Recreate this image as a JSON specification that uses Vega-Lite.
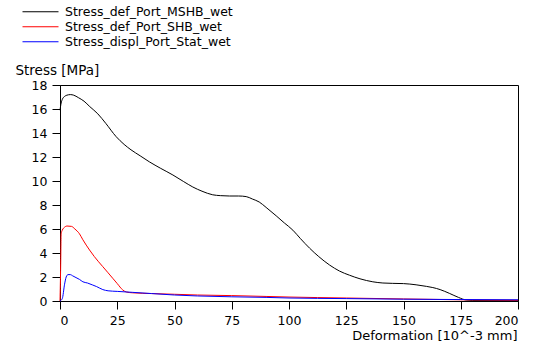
{
  "$schema": "https://vega.github.io/schema/vega-lite/v6.json",
  "width": 458,
  "height": 216,
  "autosize": "none",
  "padding": {"left": 60, "top": 85, "right": 20, "bottom": 53},
  "background": "white",
  "config": {
    "font": "DejaVu Sans",
    "view": {"stroke": "#000", "strokeWidth": 1},
    "axis": {"grid": false, "domainColor": "#000", "tickColor": "#000", "labelColor": "#000", "titleColor": "#000", "labelFontSize": 12.5, "titleFontSize": 13, "titleFontWeight": "normal", "tickSize": 8}
  },
  "data": {"values": [
    {"s":"Stress_def_Port_MSHB_wet","x":0,"y":15.9},
    {"s":"Stress_def_Port_MSHB_wet","x":0.5,"y":16.5},
    {"s":"Stress_def_Port_MSHB_wet","x":1,"y":16.8},
    {"s":"Stress_def_Port_MSHB_wet","x":2,"y":17.05},
    {"s":"Stress_def_Port_MSHB_wet","x":3,"y":17.15},
    {"s":"Stress_def_Port_MSHB_wet","x":4.5,"y":17.2},
    {"s":"Stress_def_Port_MSHB_wet","x":6,"y":17.15},
    {"s":"Stress_def_Port_MSHB_wet","x":8,"y":16.95},
    {"s":"Stress_def_Port_MSHB_wet","x":10.5,"y":16.65},
    {"s":"Stress_def_Port_MSHB_wet","x":13,"y":16.2},
    {"s":"Stress_def_Port_MSHB_wet","x":16.5,"y":15.6},
    {"s":"Stress_def_Port_MSHB_wet","x":20,"y":14.8},
    {"s":"Stress_def_Port_MSHB_wet","x":24.5,"y":13.7},
    {"s":"Stress_def_Port_MSHB_wet","x":28,"y":13.05},
    {"s":"Stress_def_Port_MSHB_wet","x":31,"y":12.6},
    {"s":"Stress_def_Port_MSHB_wet","x":35,"y":12.1},
    {"s":"Stress_def_Port_MSHB_wet","x":39,"y":11.6},
    {"s":"Stress_def_Port_MSHB_wet","x":44,"y":11.05},
    {"s":"Stress_def_Port_MSHB_wet","x":49.3,"y":10.5},
    {"s":"Stress_def_Port_MSHB_wet","x":54,"y":9.95},
    {"s":"Stress_def_Port_MSHB_wet","x":58,"y":9.5},
    {"s":"Stress_def_Port_MSHB_wet","x":62,"y":9.15},
    {"s":"Stress_def_Port_MSHB_wet","x":66.7,"y":8.85},
    {"s":"Stress_def_Port_MSHB_wet","x":70,"y":8.78},
    {"s":"Stress_def_Port_MSHB_wet","x":74,"y":8.75},
    {"s":"Stress_def_Port_MSHB_wet","x":78,"y":8.75},
    {"s":"Stress_def_Port_MSHB_wet","x":81.3,"y":8.7},
    {"s":"Stress_def_Port_MSHB_wet","x":84,"y":8.5},
    {"s":"Stress_def_Port_MSHB_wet","x":87,"y":8.25},
    {"s":"Stress_def_Port_MSHB_wet","x":90,"y":7.8},
    {"s":"Stress_def_Port_MSHB_wet","x":94.4,"y":7.1},
    {"s":"Stress_def_Port_MSHB_wet","x":98,"y":6.5},
    {"s":"Stress_def_Port_MSHB_wet","x":101.7,"y":5.9},
    {"s":"Stress_def_Port_MSHB_wet","x":105,"y":5.2},
    {"s":"Stress_def_Port_MSHB_wet","x":109,"y":4.4},
    {"s":"Stress_def_Port_MSHB_wet","x":113,"y":3.7},
    {"s":"Stress_def_Port_MSHB_wet","x":117.7,"y":3.0},
    {"s":"Stress_def_Port_MSHB_wet","x":122,"y":2.5},
    {"s":"Stress_def_Port_MSHB_wet","x":126.4,"y":2.15},
    {"s":"Stress_def_Port_MSHB_wet","x":131,"y":1.85},
    {"s":"Stress_def_Port_MSHB_wet","x":136.6,"y":1.6},
    {"s":"Stress_def_Port_MSHB_wet","x":141,"y":1.5},
    {"s":"Stress_def_Port_MSHB_wet","x":145.3,"y":1.47},
    {"s":"Stress_def_Port_MSHB_wet","x":150,"y":1.45},
    {"s":"Stress_def_Port_MSHB_wet","x":155.5,"y":1.35},
    {"s":"Stress_def_Port_MSHB_wet","x":160,"y":1.22},
    {"s":"Stress_def_Port_MSHB_wet","x":162.8,"y":1.12},
    {"s":"Stress_def_Port_MSHB_wet","x":166,"y":0.95},
    {"s":"Stress_def_Port_MSHB_wet","x":170,"y":0.64},
    {"s":"Stress_def_Port_MSHB_wet","x":174,"y":0.3},
    {"s":"Stress_def_Port_MSHB_wet","x":177.4,"y":0.08},
    {"s":"Stress_def_Port_MSHB_wet","x":180,"y":0.05},
    {"s":"Stress_def_Port_MSHB_wet","x":200,"y":0.05},
    {"s":"Stress_def_Port_SHB_wet","x":0,"y":0},
    {"s":"Stress_def_Port_SHB_wet","x":0.3,"y":3},
    {"s":"Stress_def_Port_SHB_wet","x":0.5,"y":5.6},
    {"s":"Stress_def_Port_SHB_wet","x":1,"y":5.9},
    {"s":"Stress_def_Port_SHB_wet","x":2,"y":6.15},
    {"s":"Stress_def_Port_SHB_wet","x":3,"y":6.25},
    {"s":"Stress_def_Port_SHB_wet","x":5,"y":6.22},
    {"s":"Stress_def_Port_SHB_wet","x":6.5,"y":6.0},
    {"s":"Stress_def_Port_SHB_wet","x":8.5,"y":5.6},
    {"s":"Stress_def_Port_SHB_wet","x":10,"y":5.1},
    {"s":"Stress_def_Port_SHB_wet","x":12.9,"y":4.25},
    {"s":"Stress_def_Port_SHB_wet","x":15,"y":3.7},
    {"s":"Stress_def_Port_SHB_wet","x":18.7,"y":2.86},
    {"s":"Stress_def_Port_SHB_wet","x":21,"y":2.35},
    {"s":"Stress_def_Port_SHB_wet","x":23,"y":1.9},
    {"s":"Stress_def_Port_SHB_wet","x":25,"y":1.45},
    {"s":"Stress_def_Port_SHB_wet","x":27.4,"y":0.92},
    {"s":"Stress_def_Port_SHB_wet","x":29,"y":0.75},
    {"s":"Stress_def_Port_SHB_wet","x":31.8,"y":0.68},
    {"s":"Stress_def_Port_SHB_wet","x":40,"y":0.62},
    {"s":"Stress_def_Port_SHB_wet","x":50,"y":0.56},
    {"s":"Stress_def_Port_SHB_wet","x":60,"y":0.5},
    {"s":"Stress_def_Port_SHB_wet","x":75,"y":0.45},
    {"s":"Stress_def_Port_SHB_wet","x":90,"y":0.38},
    {"s":"Stress_def_Port_SHB_wet","x":100,"y":0.33},
    {"s":"Stress_def_Port_SHB_wet","x":125,"y":0.25},
    {"s":"Stress_def_Port_SHB_wet","x":150,"y":0.17},
    {"s":"Stress_def_Port_SHB_wet","x":175,"y":0.1},
    {"s":"Stress_def_Port_SHB_wet","x":200,"y":0.06},
    {"s":"Stress_displ_Port_Stat_wet","x":0,"y":0},
    {"s":"Stress_displ_Port_Stat_wet","x":1,"y":0.2},
    {"s":"Stress_displ_Port_Stat_wet","x":2,"y":1.4},
    {"s":"Stress_displ_Port_Stat_wet","x":2.7,"y":2.0},
    {"s":"Stress_displ_Port_Stat_wet","x":3.5,"y":2.2},
    {"s":"Stress_displ_Port_Stat_wet","x":4.5,"y":2.2},
    {"s":"Stress_displ_Port_Stat_wet","x":5.5,"y":2.1},
    {"s":"Stress_displ_Port_Stat_wet","x":7,"y":1.95},
    {"s":"Stress_displ_Port_Stat_wet","x":8.5,"y":1.8},
    {"s":"Stress_displ_Port_Stat_wet","x":10,"y":1.6},
    {"s":"Stress_displ_Port_Stat_wet","x":12,"y":1.5},
    {"s":"Stress_displ_Port_Stat_wet","x":14.3,"y":1.33},
    {"s":"Stress_displ_Port_Stat_wet","x":16,"y":1.2},
    {"s":"Stress_displ_Port_Stat_wet","x":18.7,"y":0.95},
    {"s":"Stress_displ_Port_Stat_wet","x":21,"y":0.85},
    {"s":"Stress_displ_Port_Stat_wet","x":25,"y":0.8},
    {"s":"Stress_displ_Port_Stat_wet","x":31.8,"y":0.72},
    {"s":"Stress_displ_Port_Stat_wet","x":40,"y":0.62},
    {"s":"Stress_displ_Port_Stat_wet","x":50,"y":0.5},
    {"s":"Stress_displ_Port_Stat_wet","x":60,"y":0.42},
    {"s":"Stress_displ_Port_Stat_wet","x":75,"y":0.35},
    {"s":"Stress_displ_Port_Stat_wet","x":90,"y":0.3},
    {"s":"Stress_displ_Port_Stat_wet","x":100,"y":0.25},
    {"s":"Stress_displ_Port_Stat_wet","x":125,"y":0.2},
    {"s":"Stress_displ_Port_Stat_wet","x":150,"y":0.15},
    {"s":"Stress_displ_Port_Stat_wet","x":175,"y":0.12},
    {"s":"Stress_displ_Port_Stat_wet","x":200,"y":0.1}
  ]},
  "mark": {"type": "line", "strokeWidth": 1, "interpolate": "monotone"},
  "encoding": {
    "x": {"field": "x", "type": "quantitative",
      "scale": {"domain": [0, 200], "nice": false, "zero": false},
      "axis": {"values": [0,25,50,75,100,125,150,175,200], "labelPadding": 5, "title": "Deformation [10^-3 mm]", "titleAngle": 0, "titleAlign": "right", "titleBaseline": "middle", "titleX": 457, "titleY": 34}},
    "y": {"field": "y", "type": "quantitative",
      "scale": {"domain": [0, 18], "nice": false},
      "axis": {"values": [0,2,4,6,8,10,12,14,16,18], "labelPadding": 5, "title": "Stress [MPa]", "titleFontSize": 13.5, "titleAngle": 0, "titleAlign": "left", "titleBaseline": "middle", "titleX": -45, "titleY": -15}},
    "color": {"field": "s", "type": "nominal",
      "scale": {"domain": ["Stress_def_Port_MSHB_wet","Stress_def_Port_SHB_wet","Stress_displ_Port_Stat_wet"], "range": ["#000000","#ff0000","#0000ff"]},
      "legend": {"title": null, "orient": "none", "legendX": -38, "legendY": -80.5, "symbolType": "stroke", "symbolSize": 1296, "symbolStrokeWidth": 1, "labelFontSize": 12.5, "labelColor": "#000", "labelOffset": 6, "clipHeight": 14.5, "rowPadding": 0, "labelLimit": 400}}
  }
}
